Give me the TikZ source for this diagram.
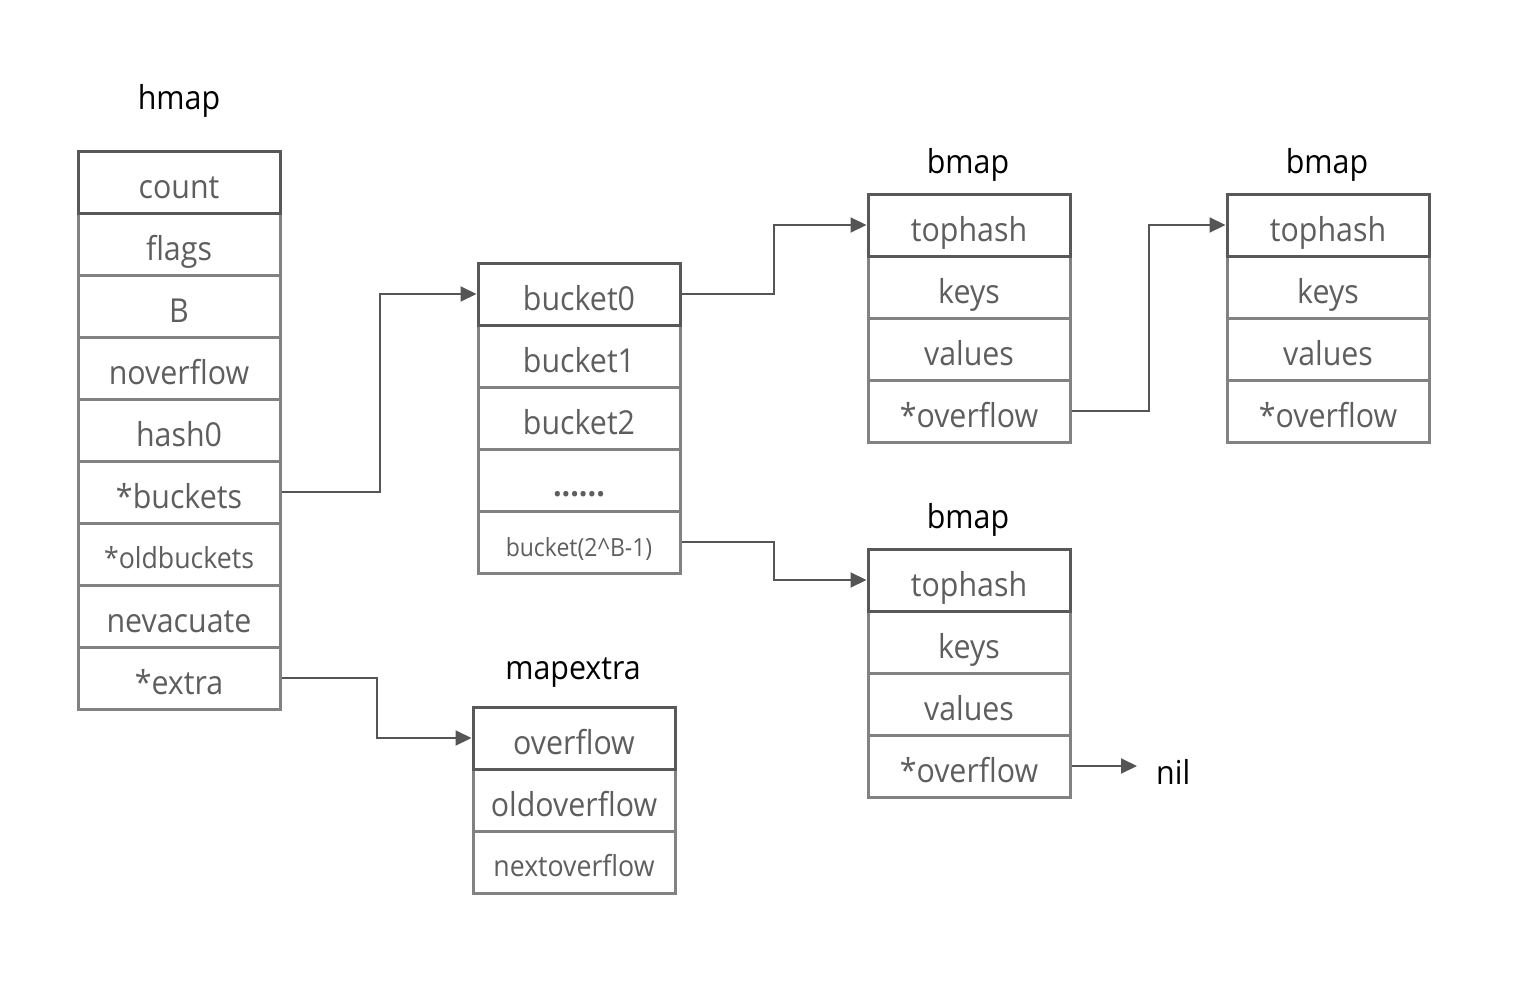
\documentclass[tikz,border=0pt]{standalone}
\usepackage{fontspec}
\setmainfont{Open Sans}[FakeStretch=0.92]
\usetikzlibrary{arrows.meta}
\definecolor{topgray}{HTML}{585858}
\definecolor{cellgray}{HTML}{828282}
\definecolor{textgray}{HTML}{5E5E5E}
\definecolor{linegray}{HTML}{555555}
\tikzset{
  cell/.style={draw=cellgray, line width=3pt, minimum width=202pt, minimum height=62pt,
    inner sep=0pt, text=textgray, text height=32pt, text depth=0pt,
    font=\fontsize{33}{36}\selectfont},
  topcell/.style={cell, draw=topgray},
  midfont/.style={font=\fontsize{29}{32}\selectfont, text height=29pt},
  smallfont/.style={font=\fontsize{25}{28}\selectfont, text height=28pt},
  title/.style={text=black, inner sep=0pt, font=\fontsize{33}{36}\selectfont},
  conn/.style={draw=linegray, line width=2pt, -{Triangle[length=16pt,width=15pt]}},
}
\begin{document}
\begin{tikzpicture}[x=1pt,y=-1pt]
\useasboundingbox[fill=white] (0,0) rectangle (1518,982);
% hmap
\node[title] (thmap) at (179,101) {hmap};
\node[cell] (h2) at (179,244) {flags};
\node[cell] (h3) at (179,306) {B};
\node[cell] (h4) at (179,368) {noverflow};
\node[cell] (h5) at (179,430) {hash0};
\node[cell] (h6) at (179,492) {*buckets};
\node[cell,midfont] (h7) at (179,554) {*oldbuckets};
\node[cell] (h8) at (179,616) {nevacuate};
\node[cell] (h9) at (179,678) {*extra};
\node[topcell] (h1) at (179,182) {count};
% buckets
\node[cell] (b2) at (579,356) {bucket1};
\node[cell] (b3) at (579,418) {bucket2};
\node[cell] (b4) at (579,480) {\textbf{......}};
\node[cell,smallfont] (b5) at (579,542) {bucket(2\^{}B-1)};
\node[topcell] (b1) at (579,294) {bucket0};
% bmap 1
\node[title] (tm1) at (968,165) {bmap};
\node[cell] (m1k) at (969,287) {keys};
\node[cell] (m1v) at (969,349) {values};
\node[cell] (m1o) at (969,411) {*overflow};
\node[topcell] (m1t) at (969,225) {tophash};
% bmap 2
\node[title] (tm2) at (1327,165) {bmap};
\node[cell] (m2k) at (1328,287) {keys};
\node[cell] (m2v) at (1328,349) {values};
\node[cell] (m2o) at (1328,411) {*overflow};
\node[topcell] (m2t) at (1328,225) {tophash};
% bmap 3
\node[title] (tm3) at (968,520) {bmap};
\node[cell] (m3k) at (969,642) {keys};
\node[cell] (m3v) at (969,704) {values};
\node[cell] (m3o) at (969,766) {*overflow};
\node[topcell] (m3t) at (969,580) {tophash};
% mapextra
\node[title] (tme) at (573,673) {mapextra};
\node[cell] (e2) at (574,800) {oldoverflow};
\node[cell,midfont] (e3) at (574,862) {nextoverflow};
\node[topcell] (e1) at (574,738) {overflow};
% nil
\node[title, anchor=west, inner xsep=19pt] (nil) at (1137,772) {nil};
% connectors
\draw[conn] (h6.east) -- ++(98,0) |- (b1.west);
\draw[conn] (h9.east) -- ++(95,0) |- (e1.west);
\draw[conn] (b1.east) -- ++(92,0) |- (m1t.west);
\draw[conn] (b5.east) -- ++(92,0) |- (m3t.west);
\draw[conn] (m1o.east) -- ++(77,0) |- (m2t.west);
\draw[conn] (m3o.east) -- (m3o.east -| nil.west);
\end{tikzpicture}
\end{document}
